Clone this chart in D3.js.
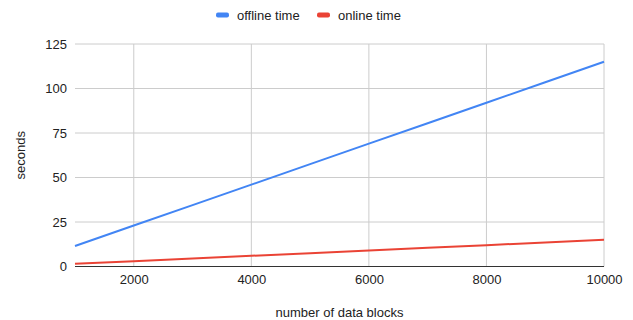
<!DOCTYPE html>
<html>
<head>
<meta charset="utf-8">
<script src="https://cdn.jsdelivr.net/npm/d3@7"></script>
<style>
  body { margin: 0; background: #fff; }
</style>
</head>
<body>
<svg width="633" height="320" font-family="'Liberation Sans', Arial, sans-serif"></svg>
<script>
  // data
  const blocks = [1000, 2000, 3000, 4000, 5000, 6000, 7000, 8000, 9000, 10000];
  const offlineTime = [11.5, 23, 34.5, 46, 57.5, 69, 80.5, 92, 103.5, 115];
  const onlineTime = [1.5, 3, 4.5, 6, 7.5, 9, 10.5, 12, 13.5, 15];
  const xTicks = [2000, 4000, 6000, 8000, 10000];
  const yTicks = [0, 25, 50, 75, 100, 125];
  const seriesNames = ['offline time', 'online time'];
  const seriesColors = ['#4285f4', '#ea4335'];

(function() {
  let svg = d3.select('svg');
  let left = 75, right = 604, plotTop = 44, bottom = 266.5;
  let font = "'Liberation Sans', Arial, sans-serif";

  let x = d3.scaleLinear().domain([1000, 10000]).range([left, right]);
  let y = d3.scaleLinear().domain([0, 125]).range([bottom, plotTop]);

  // gridlines
  svg.append('g')
    .selectAll('line')
    .data(yTicks.filter(d => d > 0))
    .enter().append('line')
    .attr('x1', left).attr('x2', right)
    .attr('y1', d => y(d)).attr('y2', d => y(d))
    .attr('stroke', '#cccccc').attr('stroke-width', 1);

  svg.append('g')
    .selectAll('line')
    .data(xTicks)
    .enter().append('line')
    .attr('x1', d => x(d)).attr('x2', d => x(d))
    .attr('y1', plotTop).attr('y2', bottom)
    .attr('stroke', '#cccccc').attr('stroke-width', 1);

  // axes (labels only, Sheets style)
  let yAxis = svg.append('g')
    .attr('transform', 'translate(' + left + ',0)')
    .call(d3.axisLeft(y).tickValues(yTicks).tickSize(0).tickPadding(8));
  let xAxis = svg.append('g')
    .attr('transform', 'translate(0,' + bottom + ')')
    .call(d3.axisBottom(x).tickValues(xTicks).tickSize(0).tickPadding(8)
      .tickFormat(d3.format('d')));
  [xAxis, yAxis].forEach(function(a) {
    a.attr('font-family', font).attr('font-size', 13);
    a.select('.domain').remove();
    a.selectAll('text').attr('fill', '#222');
  });

  // lines
  let series = [offlineTime, onlineTime];
  let line = d3.line()
    .x(function(d, i) { return x(blocks[i]); })
    .y(function(d) { return y(d); });

  svg.append('g')
    .selectAll('path')
    .data(series)
    .enter().append('path')
    .attr('d', line)
    .attr('fill', 'none')
    .attr('stroke', function(d, i) { return seriesColors[i]; })
    .attr('stroke-width', 2);

  // zero baseline
  svg.append('line')
    .attr('x1', left).attr('x2', right)
    .attr('y1', y(0)).attr('y2', y(0))
    .attr('stroke', '#333333').attr('stroke-width', 1);

  // axis titles
  svg.append('text')
    .attr('x', (left + right) / 2).attr('y', 317)
    .attr('text-anchor', 'middle')
    .attr('font-size', 13).attr('fill', '#222')
    .text('number of data blocks');

  svg.append('text')
    .attr('transform', 'translate(25,' + (plotTop + bottom) / 2 + ') rotate(-90)')
    .attr('text-anchor', 'middle')
    .attr('font-size', 13).attr('fill', '#222')
    .text('seconds');

  // legend
  let legendX = [216, 317];
  let legend = svg.append('g')
    .selectAll('g')
    .data(seriesNames)
    .enter().append('g')
    .attr('transform', function(d, i) { return 'translate(' + legendX[i] + ',15)'; });

  legend.append('rect')
    .attr('x', 0).attr('y', -2.5)
    .attr('width', 13).attr('height', 5)
    .attr('rx', 2)
    .attr('fill', function(d, i) { return seriesColors[i]; });

  legend.append('text')
    .attr('x', 21).attr('y', 4.5)
    .attr('font-size', 13).attr('fill', '#222')
    .text(function(d) { return d; });
})();
</script>
</body>
</html>
